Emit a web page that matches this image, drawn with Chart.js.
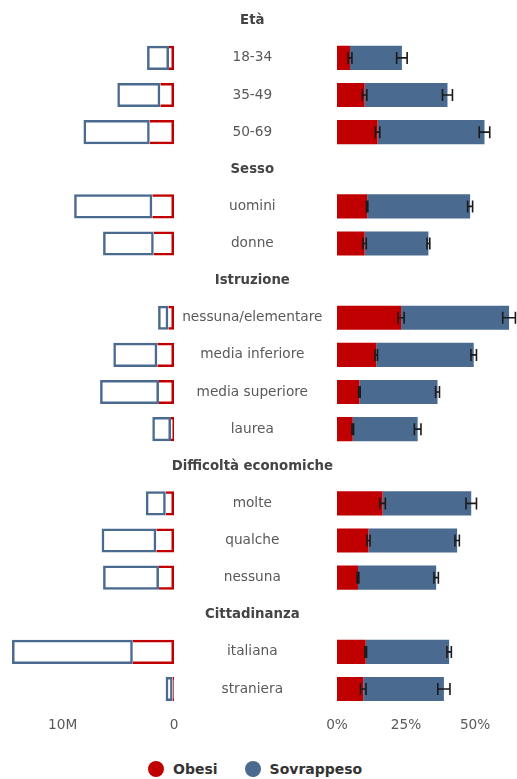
<!DOCTYPE html>
<html>
<head>
<meta charset="utf-8">
<script src="https://cdn.jsdelivr.net/npm/chart.js@4/dist/chart.umd.min.js"></script>
<style>
  body { margin: 0; background: #fff; font-family: "DejaVu Sans", sans-serif; overflow: hidden; }
  #wrap { position: relative; width: 517px; height: 779px; overflow: hidden; }
  #left { position: absolute; left: 0; top: -10px; }
  #right { position: absolute; left: 172px; top: -10px; }
  #legend { position: absolute; left: 148px; top: 761px; display: flex; align-items: center;
            font-weight: bold; font-size: 14px; color: #333; }
  .dot { width: 16px; height: 16px; border-radius: 50%; display: inline-block; margin-right: 9px; }
</style>
</head>
<body>
<div id="wrap">
  <canvas id="left" width="180" height="760"></canvas>
  <canvas id="right" width="345" height="760"></canvas>
  <div id="legend">
    <span class="dot" style="background:#c00000"></span><span>Obesi</span>
    <span class="dot" style="background:#4a6a8f;margin-left:27px"></span><span>Sovrappeso</span>
  </div>
</div>
<script>
// righe del grafico: intestazioni di gruppo + categorie
const labels = ["Età", "18-34", "35-49", "50-69",
    "Sesso", "uomini", "donne",
    "Istruzione", "nessuna/elementare", "media inferiore", "media superiore", "laurea",
    "Difficoltà economiche", "molte", "qualche", "nessuna",
    "Cittadinanza", "italiana", "straniera"];
const headers = ["Età", "Sesso", "Istruzione", "Difficoltà economiche", "Cittadinanza"];

// percentuali (%)
const obesiPct      = [null, 4.7, 10.0, 14.7, null, 10.9, 10.0, null, 23.2, 14.2, 8.1, 5.7, null, 16.5, 11.4, 7.6, null, 10.4, 9.5];
const sovrappesoPct = [null, 18.8, 30.0, 38.7, null, 37.3, 23.1, null, 39.1, 35.3, 28.3, 23.5, null, 32.1, 32.1, 28.3, null, 30.2, 29.2];
// intervalli di confidenza (semi-ampiezza, %)
const obesiErr      = [null, 0.7, 0.8, 0.8, null, 0.25, 0.6, null, 1.1, 0.45, 0.3, 0.3, null, 1.0, 0.55, 0.3, null, 0.3, 1.0];
const sovrappesoErr = [null, 1.9, 1.8, 1.9, null, 0.9, 0.5, null, 2.3, 1.0, 0.7, 1.2, null, 1.9, 0.8, 0.8, null, 0.8, 2.2];

// valori assoluti (milioni)
const obesiN      = [null, 0.45, 1.23, 2.18, null, 1.95, 1.82, null, 0.51, 1.50, 1.35, 0.27, null, 0.74, 1.59, 1.35, null, 3.70, 0.12];
const sovrappesoN = [null, 1.97, 3.86, 5.95, null, 7.02, 4.55, null, 0.92, 3.95, 5.29, 1.68, null, 1.79, 4.91, 5.02, null, 10.85, 0.63];

const RED = "#c00000";
const BLUE = "#4a6a8f";
const GREY = "#595959";

Chart.defaults.font.family = "'DejaVu Sans', sans-serif";
Chart.defaults.font.size = 13.7;
Chart.defaults.color = GREY;
Chart.defaults.animation = false;

const noLegend = { legend: { display: false }, tooltip: { enabled: false } };

// niente padding orizzontale automatico dovuto alle etichette
function fixX(s) {
    s.paddingLeft = 0;
    s.paddingRight = 0;
}

// grafico di sinistra: valori assoluti, asse invertito
new Chart(document.getElementById("left"), {
    type: "bar",
    data: {
        labels: labels,
        datasets: [{
            label: "Obesi",
            data: obesiN,
            backgroundColor: "rgba(255,255,255,0)",
            borderColor: RED,
            borderWidth: 2.5,
            borderSkipped: "right"
        }, {
            label: "Sovrappeso",
            data: sovrappesoN,
            backgroundColor: "rgba(255,255,255,0)",
            borderColor: BLUE,
            borderWidth: 2.5,
            borderSkipped: false
        }]
    },
    options: {
        indexAxis: "y",
        responsive: false,
        layout: { padding: { left: 7, right: 6, top: 12.2, bottom: 6 } },
        datasets: { bar: { categoryPercentage: 1, barPercentage: 0.65, inflateAmount: 0 } },
        plugins: noLegend,
        scales: {
            x: {
                stacked: true,
                reverse: true,
                min: 0,
                max: 15,
                grid: { display: false, drawTicks: false },
                border: { display: false },
                afterFit: fixX,
                ticks: {
                    stepSize: 10,
                    includeBounds: false,
                    padding: 10,
                    maxRotation: 0,
                    callback: v => v === 0 ? "0" : v + "M"
                }
            },
            y: { stacked: true, display: false }
        }
    }
});

// barre di errore
const errorBars = {
    id: "errorBars",
    afterDatasetsDraw(chart) {
        const ctx = chart.ctx;
        const xs = chart.scales.x;
        const ys = chart.scales.y;
        ctx.save();
        ctx.strokeStyle = "#1a1a1a";
        ctx.lineWidth = 1.6;
        labels.forEach((lab, i) => {
            if (obesiPct[i] == null) return;
            const y = ys.getPixelForValue(i);
            const pairs = [[obesiPct[i], obesiErr[i]], [obesiPct[i] + sovrappesoPct[i], sovrappesoErr[i]]];
            pairs.forEach(([v, e]) => {
                const x1 = xs.getPixelForValue(v - e);
                const x2 = xs.getPixelForValue(v + e);
                ctx.beginPath();
                ctx.moveTo(x1, y); ctx.lineTo(x2, y);
                ctx.moveTo(x1, y - 6); ctx.lineTo(x1, y + 6);
                ctx.moveTo(x2, y - 6); ctx.lineTo(x2, y + 6);
                ctx.stroke();
            });
        });
        ctx.restore();
    }
};

// grafico di destra: percentuali con etichette al centro
new Chart(document.getElementById("right"), {
    type: "bar",
    data: {
        labels: labels,
        datasets: [{
            label: "Obesi",
            data: obesiPct,
            backgroundColor: RED
        }, {
            label: "Sovrappeso",
            data: sovrappesoPct,
            backgroundColor: BLUE
        }]
    },
    options: {
        indexAxis: "y",
        responsive: false,
        layout: { padding: { left: 0, right: 6, top: 1, bottom: 6 } },
        datasets: { bar: { categoryPercentage: 1, barPercentage: 0.65 } },
        plugins: noLegend,
        scales: {
            x: {
                stacked: true,
                min: 0,
                max: 63,
                grid: { display: false, drawTicks: false },
                border: { display: false },
                afterFit: fixX,
                ticks: {
                    stepSize: 25,
                    includeBounds: false,
                    padding: 10,
                    maxRotation: 0,
                    callback: v => v + "%"
                }
            },
            y: {
                stacked: true,
                grid: { display: false, drawTicks: false },
                border: { display: false },
                afterFit: s => { s.width = 165; },
                ticks: {
                    crossAlign: "center",
                    padding: 4,
                    autoSkip: false,
                    color: c => headers.includes(labels[c.index]) ? "#444" : GREY,
                    font: c => headers.includes(labels[c.index])
                        ? { weight: "bold", size: 13.3 }
                        : { size: 13.7 }
                }
            }
        }
    },
    plugins: [errorBars]
});
</script>
</body>
</html>
